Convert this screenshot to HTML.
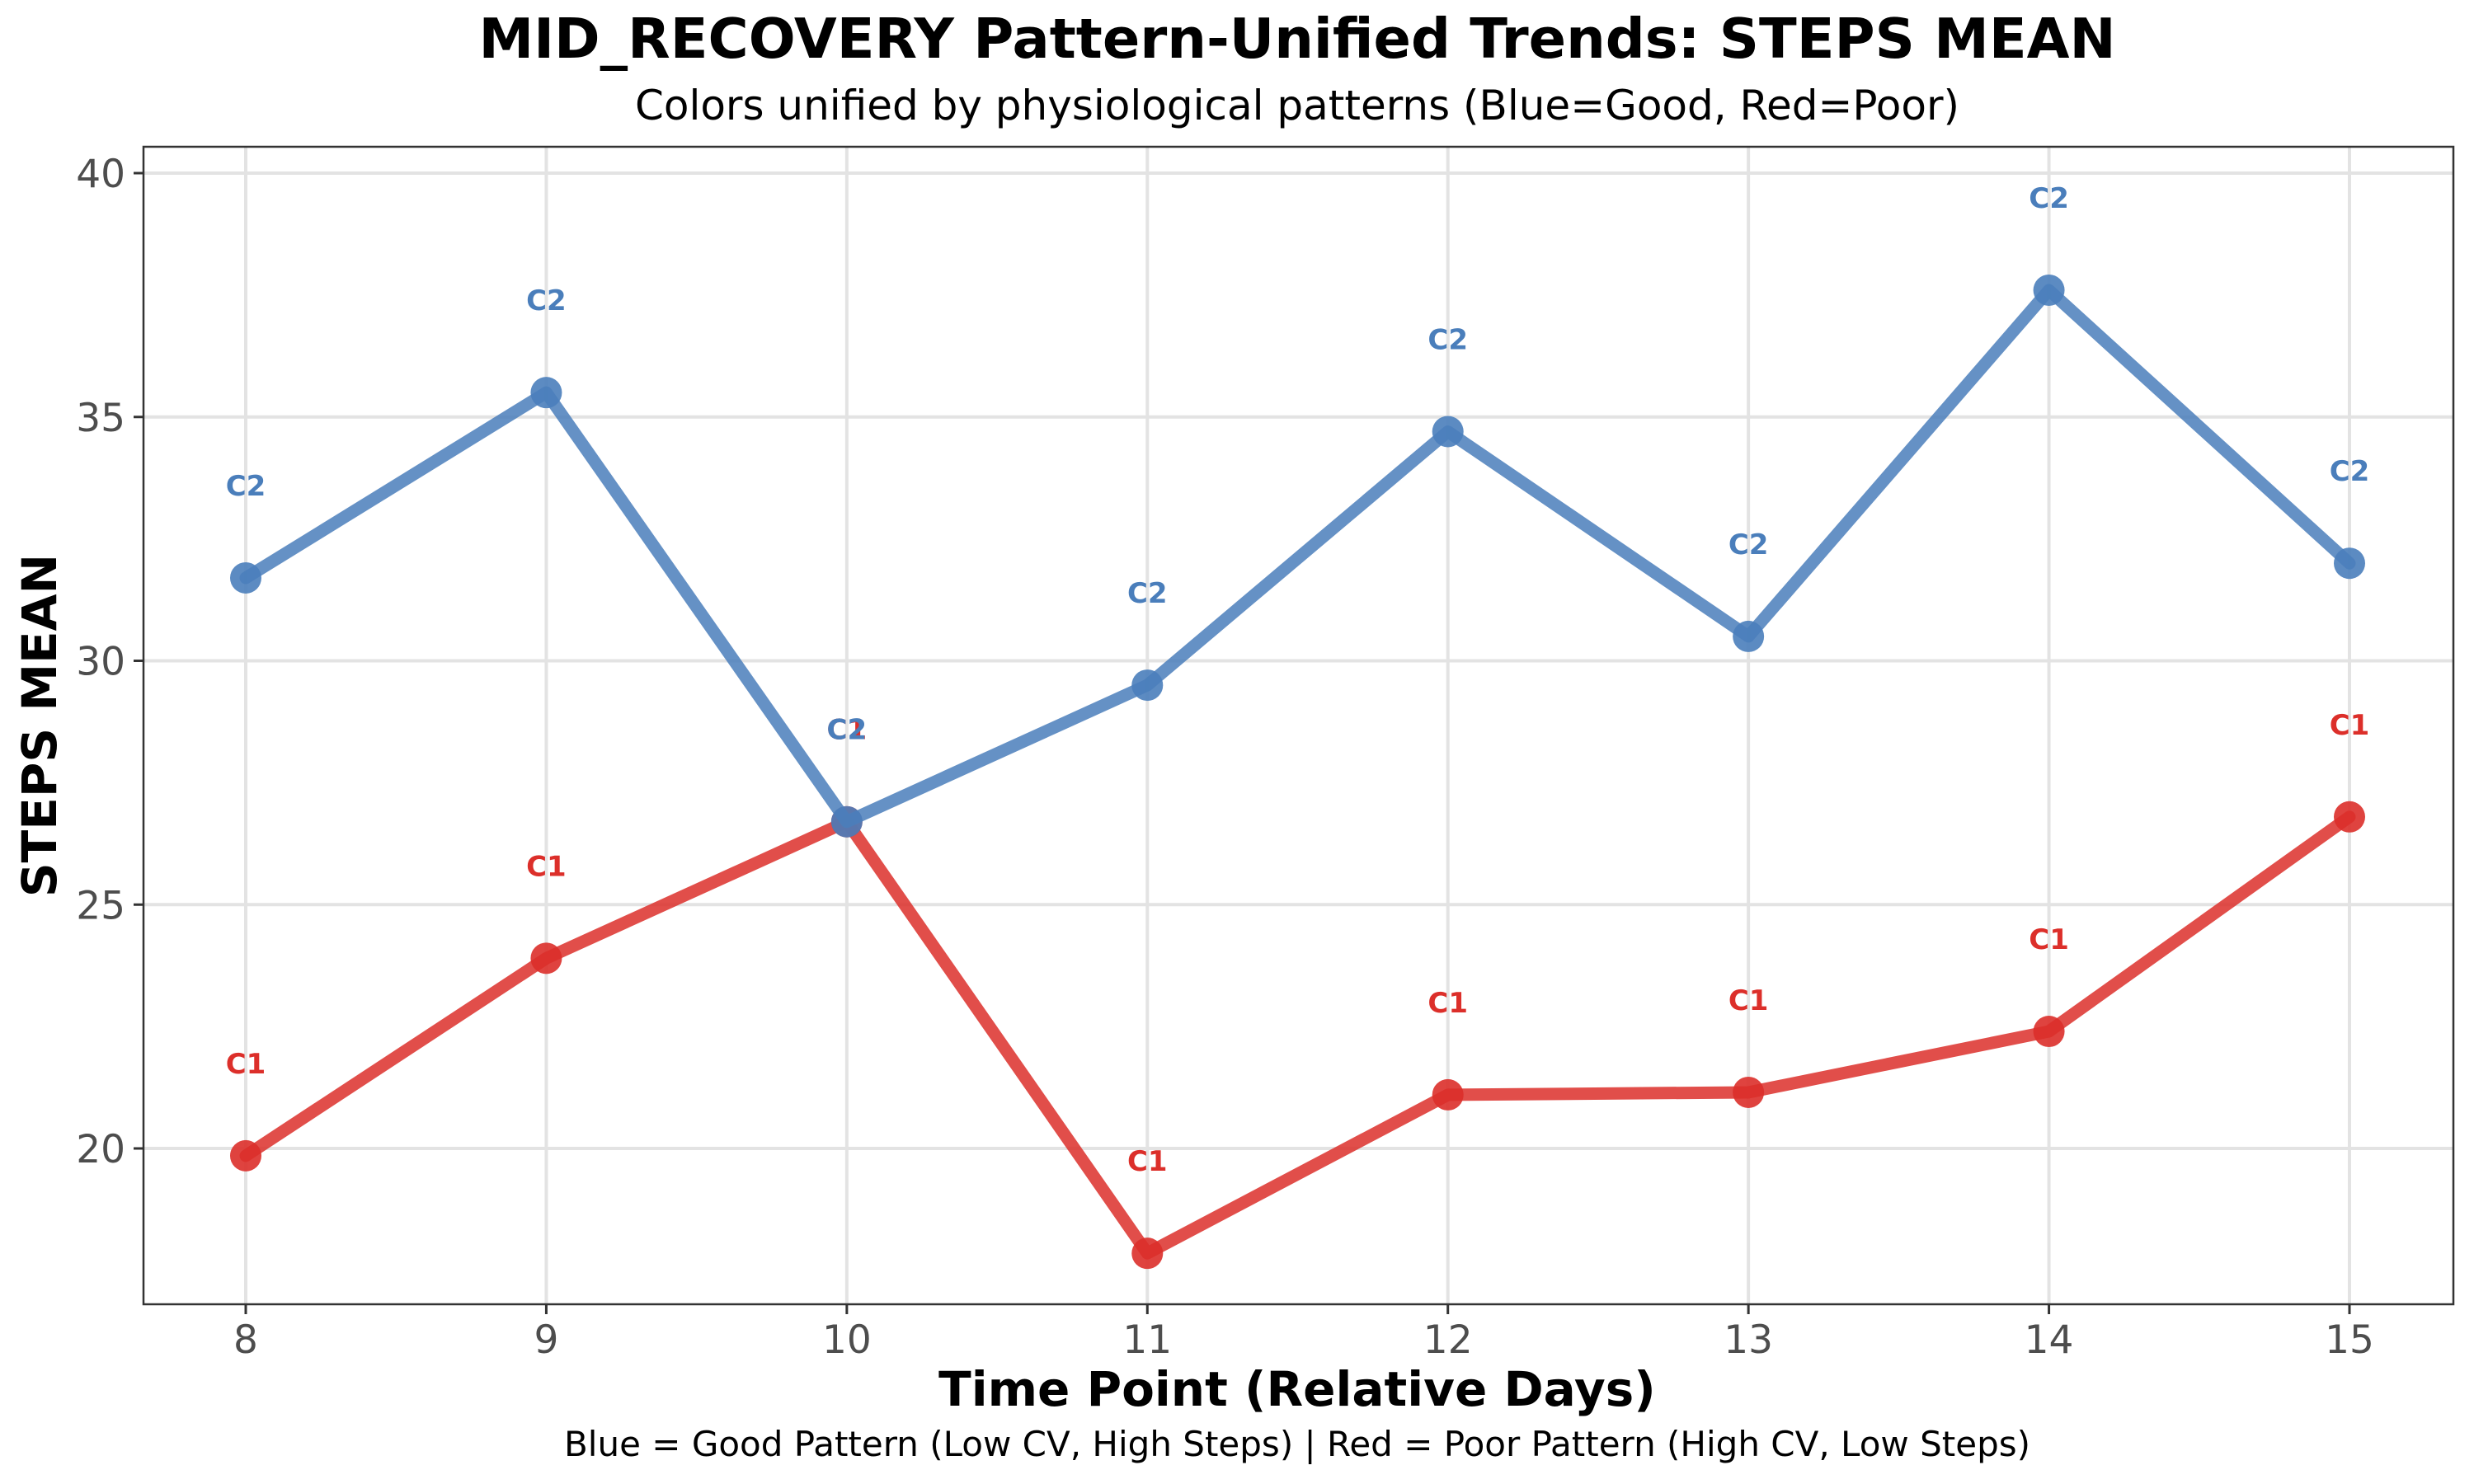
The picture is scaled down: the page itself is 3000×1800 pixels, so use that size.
<!DOCTYPE html>
<html><head><meta charset="utf-8"><style>
html,body{margin:0;padding:0;background:#fff}
svg{display:block;font-family:"DejaVu Sans","Liberation Sans",sans-serif}
</style></head><body>
<svg id="chart" width="3000" height="1800" viewBox="0 0 3000 1800" xmlns="http://www.w3.org/2000/svg">
<rect x="0" y="0" width="3000" height="1800" fill="#fff"/>
<text x="1573" y="70" text-anchor="middle" font-size="67" font-weight="bold" fill="#000">MID_RECOVERY Pattern-Unified Trends: STEPS MEAN</text>
<text x="1573" y="145" text-anchor="middle" font-size="50" fill="#000">Colors unified by physiological patterns (Blue=Good, Red=Poor)</text>
<g id="grid"></g>
<g id="axes"></g>
<g id="series"></g>
<rect x="174" y="178" width="2801" height="1404" fill="none" stroke="#333" stroke-width="2.5"/>
<text x="1573" y="1705" text-anchor="middle" font-size="58" font-weight="bold" fill="#000">Time Point (Relative Days)</text>
<text transform="translate(68,880) rotate(-90)" text-anchor="middle" font-size="58" font-weight="bold" fill="#000">STEPS MEAN</text>
<text x="1573" y="1766" text-anchor="middle" font-size="42" fill="#000">Blue = Good Pattern (Low CV, High Steps) | Red = Poor Pattern (High CV, Low Steps)</text>
</svg>
<script>
const days = [8, 9, 10, 11, 12, 13, 14, 15];
const goodValues = [31.7, 35.5, 26.7, 29.5, 34.7, 30.5, 37.6, 32.0];
const poorValues = [19.85, 23.9, 26.7, 17.85, 21.1, 21.15, 22.4, 26.8];
const goodLabels = ["C2","C2","C2","C2","C2","C2","C2","C2"];
const poorLabels = ["C1","C1","C1","C1","C1","C1","C1","C1"];
const yTicks = [20, 25, 30, 35, 40];
const xTicks = [8, 9, 10, 11, 12, 13, 14, 15];

const NS = "http://www.w3.org/2000/svg";
const L = 174, R = 2975, T = 178, B = 1582;
function xs(d){ return 298 + (d - 8) * (2849 - 298) / 7; }
function ys(v){ return 1393 - (v - 20) * (1393 - 210) / 20; }
function mk(tag, attrs, parent){
  const e = document.createElementNS(NS, tag);
  for (const k in attrs) e.setAttribute(k, attrs[k]);
  parent.appendChild(e);
  return e;
}
const grid = document.getElementById('grid');
const axes = document.getElementById('axes');
const series = document.getElementById('series');

yTicks.forEach(v => {
  const y = ys(v);
  const g = mk('line', {x1:L, x2:R, y1:y, y2:y, stroke:'#e3e3e3', 'stroke-width':4}, grid);
  
  
  const t = mk('line', {x1:L-12, x2:L, y1:y, y2:y, stroke:'#333', 'stroke-width':3}, axes);
  
  
  const lb = mk('text', {x:L-22, y:y+17, 'text-anchor':'end', 'font-size':47, fill:'#4d4d4d'}, axes);
  lb.textContent = v;
  
  
});
xTicks.forEach(d => {
  const x = xs(d);
  const g = mk('line', {x1:x, x2:x, y1:T, y2:B, stroke:'#e3e3e3', 'stroke-width':4}, grid);
  
  
  const t = mk('line', {x1:x, x2:x, y1:B, y2:B+12, stroke:'#333', 'stroke-width':3}, axes);
  
  
  const lb = mk('text', {x:x, y:1641, 'text-anchor':'middle', 'font-size':47, fill:'#4d4d4d'}, axes);
  lb.textContent = d;
  
  
});

function drawSeries(vals, labels, color, name){
  const pts = vals.map((v,i) => xs(days[i]) + ',' + ys(v)).join(' ');
  const pl = mk('polyline', {points:pts, fill:'none', stroke:color, 'stroke-width':15, 'stroke-opacity':0.85, 'stroke-linejoin':'round', 'stroke-linecap':'round'}, series);
  
  
  vals.forEach((v,i) => {
    const c = mk('circle', {cx:xs(days[i]), cy:ys(v), r:19, fill:color, 'fill-opacity':0.9}, series);
    
    
    const t = mk('text', {x:xs(days[i]), y:ys(v)-100, 'text-anchor':'middle', 'font-size':34, 'font-weight':'bold', fill:color}, series);
    t.textContent = labels[i];
    
    
  });
}
drawSeries(poorValues, poorLabels, '#dc2f2a', 'poor-pattern');
drawSeries(goodValues, goodLabels, '#4a7ebb', 'good-pattern');
</script>
</body></html>
